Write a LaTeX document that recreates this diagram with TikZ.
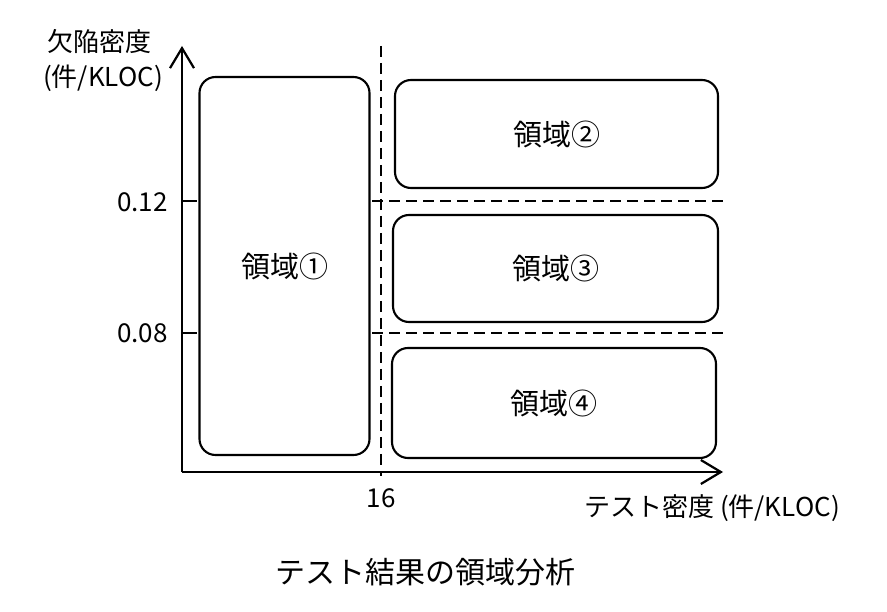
\documentclass[tikz,border=0pt]{standalone}
\usepackage{fontspec}
\setmainfont{Noto Sans CJK JP}
\usetikzlibrary{arrows.meta}
\tikzset{
  achse/.style={-{Straight Barb[length=20pt,width=24pt]},line width=2.2pt},
  strich/.style={line width=2pt},
  grenze/.style={dash pattern=on 11pt off 6pt,line width=2pt},
  bereich/.style={draw,line width=2.1pt,rounded corners=16pt,inner sep=0pt},
  beschr/.style={font=\fontsize{26}{26}\selectfont,inner sep=0pt},
  feld/.style={font=\fontsize{29}{29}\selectfont},
}

\begin{document}
\begin{tikzpicture}[x=1pt,y=-1pt]
  \useasboundingbox (0,0) rectangle (887,612);
  % Achsen
  \coordinate (o) at (182,472);
  \coordinate (ytop) at (182,46);
  \coordinate (xend) at (723,472);
  \draw[achse] (o)--(ytop);
  \draw[achse] (o)--(xend);
  \node[beschr] (ylab) at (99,42) {欠陥密度};
  \node[beschr] (yunit) at (103,78) {(件/KLOC)};
  \node[beschr] (xlab) at (712,508) {テスト密度 (件/KLOC)};
  % Skala
  \draw[strich] (182,201)--(197,201);
  \draw[strich] (182,333)--(197,333);
  \node[beschr,anchor=east] (t12) at (168,202) {0.12};
  \node[beschr,anchor=east] (t08) at (168,333) {0.08};
  \node[beschr] (t16) at (381,498) {16};
  % Grenzen
  \draw[grenze] (381,46)--(381,476);
  \draw[grenze] (372,201)--(728,201);
  \draw[grenze] (372,333)--(728,333);
  % Bereiche
  \node[bereich,minimum width=170pt,minimum height=378pt] (b1) at (284.5,266) {};
  \node[bereich,minimum width=323pt,minimum height=108pt] (b2) at (556.5,134) {};
  \node[bereich,minimum width=325pt,minimum height=107pt] (b3) at (555.5,268.5) {};
  \node[bereich,minimum width=324pt,minimum height=110pt] (b4) at (554,403) {};
  \node[feld] at (b1) {領域①};
  \node[feld] at (b2) {領域②};
  \node[feld] at (b3) {領域③};
  \node[feld] at (b4) {領域④};
  \node[feld,font=\fontsize{30}{30}\selectfont] (titel) at (425,572) {テスト結果の領域分析};
\end{tikzpicture}
\end{document}
